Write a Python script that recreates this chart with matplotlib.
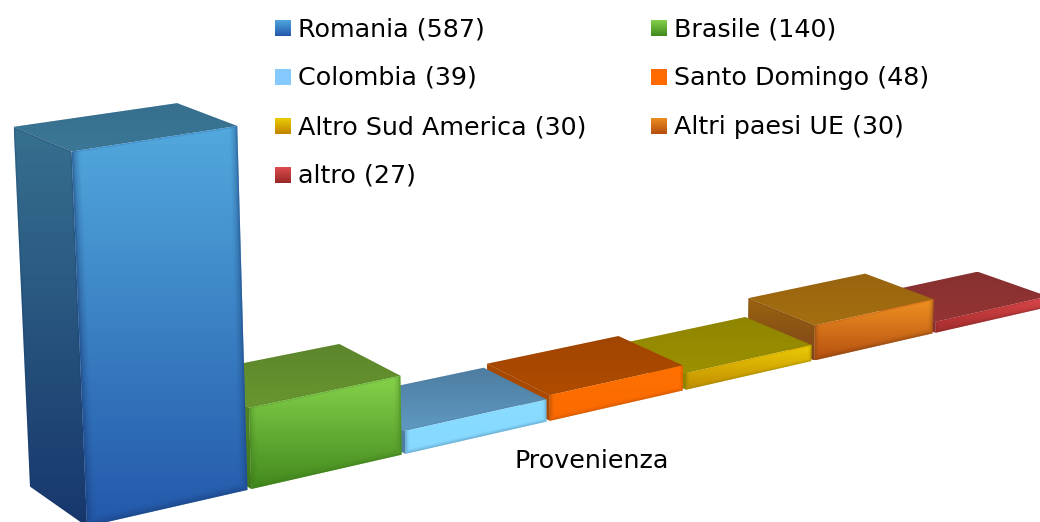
import numpy as np
import matplotlib
matplotlib.use('Agg')
import matplotlib.pyplot as plt
from matplotlib.colors import LinearSegmentedColormap, to_rgb
from matplotlib.patches import Polygon

######### data #########
categories = ['Romania', 'Brasile', 'Colombia', 'Santo Domingo',
              'Altro Sud America', 'Altri paesi UE', 'altro']
# numbers printed in the legend
legend_counts = [587, 140, 39, 48, 30, 30, 27]
# heights (Altri paesi UE is drawn taller than its label)
bar_values = [587, 134, 39, 45, 30, 65, 21]

# face colours per bar: front top/bottom, top face back/front, side top/bottom
front_top = ['#52a9dd', '#86d24b', '#8addff', '#ff7000', '#eccb06', '#ef9222', '#dc474a']
front_bot = ['#2358aa', '#42891e', '#86d8ff', '#fa6a00', '#c08c00', '#b65010', '#a02b2b']
top_back = ['#376f8e', '#5d862c', '#4d7da0', '#a04500', '#8f8500', '#99640f', '#873030']
top_front = ['#3c7796', '#68962f', '#6099c2', '#b04c00', '#9c9100', '#a56e10', '#953434']
side_top = ['#37708f', '#5d862c', '#4d7da0', '#a64800', '#8f8500', '#9a6410', '#873030']
side_bot = ['#17376c', '#3f7a1c', '#4d7da0', '#ae4b00', '#8f8500', '#7e4418', '#873030']

# legend swatches
legend_top = ['#4fa6dc', '#84d04a', '#85caff', '#ff6b00', '#e8cc04', '#ec8c20', '#dc4c4e']
legend_bot = ['#2459ad', '#3f8a1e', '#85caff', '#ff6b00', '#c38400', '#b54f10', '#9a2828']

######### camera #########
def project(x, z, y):
    # x : bar slot, z : depth 0-1, y : value
    w = 1 + 0.0334 * x + 0.0446 * z - 4.97e-5 * y
    u = (85 + 172.7 * x - 55.75 * z + (3.6 - 0.25 * x) * x * z - 0.0298 * y) / w
    v = (527 - 21.2 * x - 18.3 * z - 0.6467 * y) / w
    return u, v


fig = plt.figure(figsize=(10.4, 5.22), dpi=100)
ax = fig.add_axes([0, 0, 1, 1])


def gradient_face(pts, c1, c2, edge=None):
    pts = np.array(pts)
    x0, x1 = pts[:, 0].min(), pts[:, 0].max()
    y0, y1 = pts[:, 1].min(), pts[:, 1].max()
    cmap = LinearSegmentedColormap.from_list('f', [c1, c2])
    grad = np.linspace(0, 1, 128).reshape(-1, 1)
    im = ax.imshow(grad, cmap=cmap, extent=[x0, x1, y1, y0], aspect='auto', zorder=2)
    clip = Polygon(pts, closed=True, transform=ax.transData, fc='none', ec='none')
    ax.add_patch(clip)
    im.set_clip_path(clip)
    if edge is not None:
        # rim stays inside the face, no pale halo on the white background
        rim = Polygon(pts, closed=True, fc='none', ec=edge, lw=2.2,
                      joinstyle='round', alpha=0.22, zorder=2)
        ax.add_patch(rim)
        rim.set_clip_path(clip)
    return clip


def soft_edges(pts, clip, color, width=7.0, strength=0.45):
    # darkens the left, right and bottom rim of a front face
    tl, tr, br, bl = [np.array(p) for p in pts]
    x0, x1 = min(tl[0], bl[0]), max(tr[0], br[0])
    y0, y1 = min(tl[1], tr[1]), max(bl[1], br[1])
    nx, ny = int(x1 - x0) + 1, int(y1 - y0) + 1
    gx, gy = np.meshgrid(np.linspace(x0, x1, nx), np.linspace(y0, y1, ny))
    left = gx - (tl[0] + (bl[0] - tl[0]) * (gy - tl[1]) / (bl[1] - tl[1]))
    right = (tr[0] + (br[0] - tr[0]) * (gy - tr[1]) / (br[1] - tr[1])) - gx
    bottom = (bl[1] + (br[1] - bl[1]) * (gx - bl[0]) / (br[0] - bl[0])) - gy
    d = np.minimum(np.minimum(left, right), bottom)
    rgba = np.zeros((ny, nx, 4))
    rgba[..., :3] = to_rgb(color)
    rgba[..., 3] = strength * np.clip(1 - d / width, 0, 1) ** 1.5
    im = ax.imshow(rgba, extent=[x0, x1, y1, y0], aspect='auto', zorder=2)
    im.set_clip_path(clip)


# right to left, the nearer (left) bars cover the next one
for i in range(len(bar_values) - 1, -1, -1):
    val = bar_values[i]
    xa, xb = i + 0.012, i + 0.988

    # left side
    gradient_face([project(xa, 0, val), project(xa, 1, val), project(xa, 1, 0), project(xa, 0, 0)],
                  side_top[i], side_bot[i], side_bot[i])
    # top
    gradient_face([project(xa, 1, val), project(xb, 1, val), project(xb, 0, val), project(xa, 0, val)],
                  top_back[i], top_front[i], top_back[i])
    # front
    front = [project(xa, 0, val), project(xb, 0, val), project(xb, 0, 0), project(xa, 0, 0)]
    clip = gradient_face(front, front_top[i], front_bot[i], front_bot[i])
    soft_edges(front, clip, side_bot[i], width=min(9.0, 3 + val / 30))

######### legend and axis title #########
col_x = [275, 651]
row_y = [20, 69, 118, 167]
for n, cat in enumerate(categories):
    sx = col_x[n % 2]
    sy = row_y[n // 2]
    cmap = LinearSegmentedColormap.from_list('s', [legend_top[n], legend_bot[n]])
    ax.imshow(np.linspace(0, 1, 32).reshape(-1, 1), cmap=cmap,
              extent=[sx, sx + 16, sy + 16, sy], aspect='auto', zorder=3)
    ax.text(sx + 23, sy + 9, '%s (%d)' % (cat, legend_counts[n]), fontsize=18.3,
            family='DejaVu Sans', color='#000000', va='center', ha='left', zorder=4)

ax.text(592, 461, 'Provenienza', fontsize=18.3, family='DejaVu Sans',
        color='#000000', va='center', ha='center', zorder=4)

ax.set_xlim(0, 1040)
ax.set_ylim(522, 0)
ax.axis('off')

plt.savefig('out.png', dpi=100)
